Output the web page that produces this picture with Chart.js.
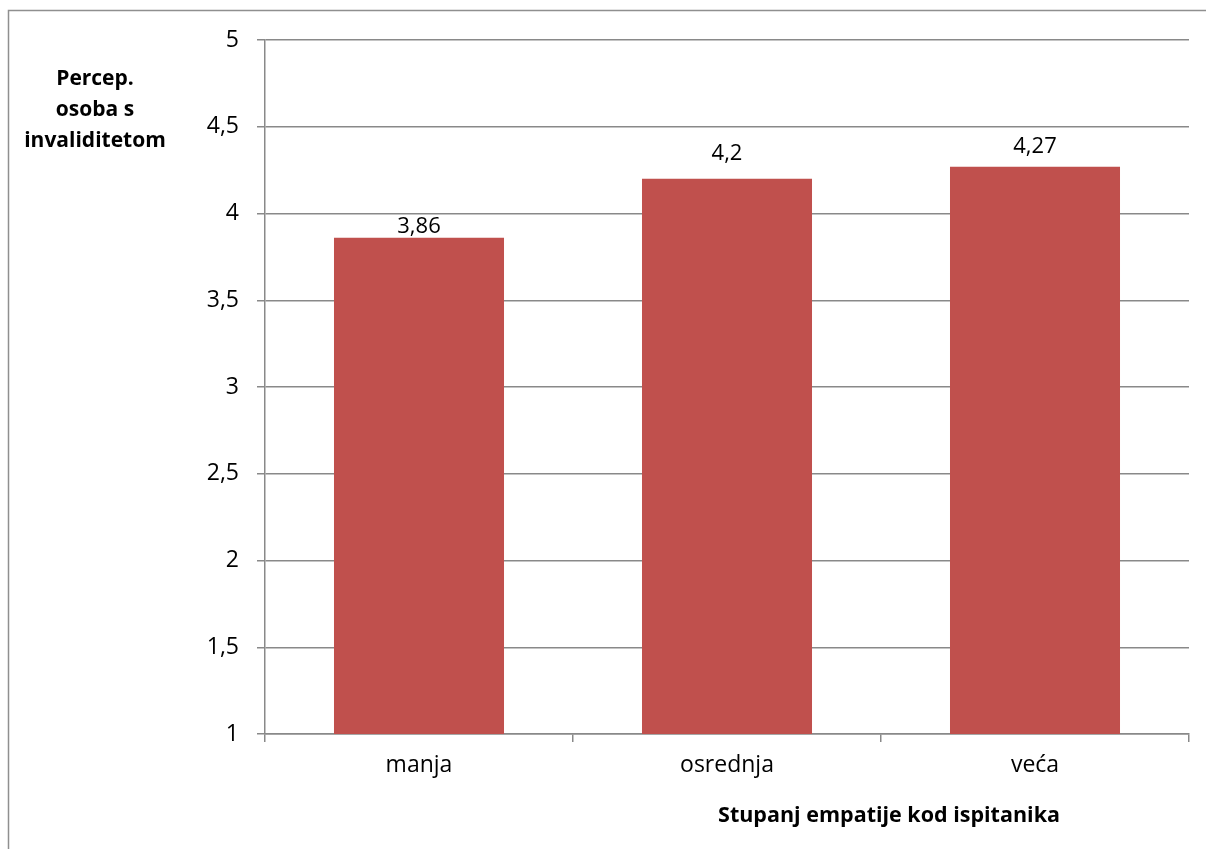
<!DOCTYPE html>
<html>
<head>
<meta charset="utf-8">
<script src="https://cdn.jsdelivr.net/npm/chart.js@4"></script>
<style>
html,body{margin:0;padding:0;background:#fff;}
#wrap{width:1206px;height:849px;position:relative;}
canvas{display:block;}
</style>
</head>
<body>
<div id="wrap"><canvas id="c" width="1206" height="849"></canvas></div>
<script>
const categories = ["manja", "osrednja", "veća"];
const values = [3.86, 4.2, 4.27];
const yTitleLines = ["Percep.", "osoba s", "invaliditetom"];
const xTitle = "Stupanj empatije kod ispitanika";
const yMin = 1, yMax = 5, yStep = 0.5;

const FONT = "'Open Sans', sans-serif";
const fmt = v => String(v).replace('.', ',');
const GRID = '#898989';
const LABEL_GAP = [5, 19, 14];

const decor = {
  id: 'decor',
  beforeDraw(chart) {
    const ctx = chart.ctx;
    ctx.save();
    ctx.strokeStyle = '#8f8f8f';
    ctx.lineWidth = 1.5;
    ctx.beginPath();
    ctx.moveTo(8.5, 849);
    ctx.lineTo(8.5, 10.5);
    ctx.lineTo(1206, 10.5);
    ctx.stroke();
    ctx.restore();
  },
  afterDraw(chart) {
    const ctx = chart.ctx;
    ctx.save();
    ctx.fillStyle = '#000';
    ctx.textAlign = 'center';
    ctx.textBaseline = 'alphabetic';
    ctx.font = "22px " + FONT;
    const meta = chart.getDatasetMeta(0);
    meta.data.forEach((bar, i) => {
      ctx.fillText(fmt(values[i]), bar.x, bar.y - LABEL_GAP[i]);
    });
    ctx.font = "bold 21px " + FONT;
    const ys = [85, 116, 147];
    yTitleLines.forEach((t, i) => ctx.fillText(t, 95, ys[i]));
    ctx.font = "bold 21.5px " + FONT;
    ctx.fillText(xTitle, 889, 822);
    ctx.restore();
  }
};

new Chart(document.getElementById('c'), {
  type: 'bar',
  data: {
    labels: categories,
    datasets: [{
      data: values,
      backgroundColor: '#C0504D',
      borderWidth: 0,
      categoryPercentage: 1,
      barPercentage: 0.552
    }]
  },
  options: {
    responsive: false,
    animation: false,
    devicePixelRatio: 1,
    layout: { padding: { left: 0, top: 40, right: 17, bottom: 0 } },
    plugins: { legend: { display: false }, tooltip: { enabled: false } },
    scales: {
      x: {
        grid: { offset: true, drawOnChartArea: false, drawTicks: true, tickLength: 8, color: GRID, lineWidth: 1.5 },
        border: { color: GRID, width: 1.5 },
        ticks: { color: '#000', font: { family: FONT, size: 23 }, padding: 10, maxRotation: 0 },
        afterFit(s) { s.height = 115; }
      },
      y: {
        min: yMin, max: yMax,
        grid: { color: GRID, lineWidth: 1.5, tickLength: 8 },
        border: { color: GRID, width: 1.5 },
        ticks: { stepSize: yStep, color: '#000', font: { family: FONT, size: 23 }, padding: 18, callback: v => fmt(v) },
        afterFit(s) { s.width = 265; }
      }
    }
  },
  plugins: [decor]
});
</script>
</body>
</html>
